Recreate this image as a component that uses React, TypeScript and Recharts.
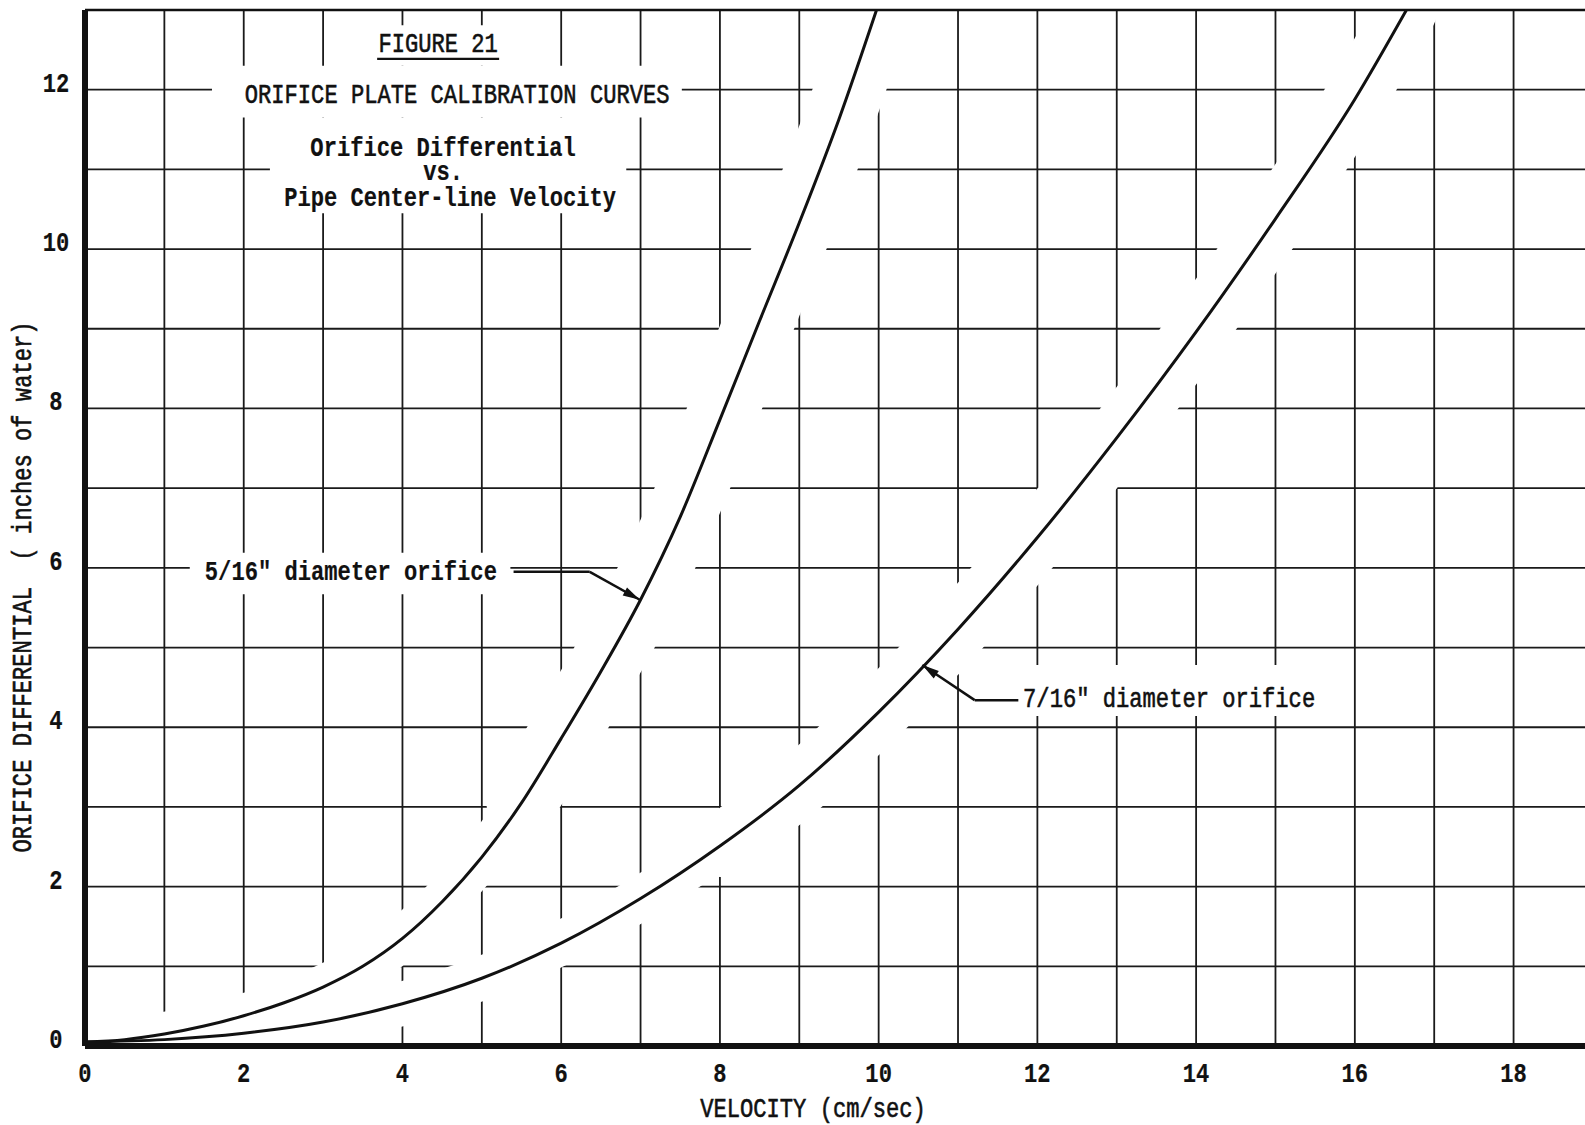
import React from 'react';
import {
  LineChart,
  Line,
  XAxis,
  YAxis,
  CartesianGrid,
  ReferenceLine,
  ReferenceArea,
  ReferenceDot,
  Label,
} from 'recharts';

// 5/16" orifice: velocity (cm/sec) vs differential (inches of water)
const VELOCITY_516 = [0, 0.5, 1, 1.5, 2, 2.5, 3, 3.5, 4, 4.5, 5, 5.5, 6, 6.5, 7, 7.5, 8, 8.5, 9, 9.5, 10];
const DIFF_516 = [0.05, 0.08, 0.15, 0.25, 0.38, 0.54, 0.74, 1.0, 1.35, 1.81, 2.37, 3.05, 3.86, 4.7, 5.6, 6.64, 7.86, 9.1, 10.33, 11.63, 13.08];

// 7/16" orifice
const VELOCITY_716 = [0, 1, 2, 3, 4, 5, 6, 7, 8, 9, 10, 11, 12, 13, 14, 15, 16, 16.65];
const DIFF_716 = [0.05, 0.08, 0.16, 0.3, 0.53, 0.85, 1.29, 1.85, 2.51, 3.27, 4.19, 5.23, 6.38, 7.63, 8.96, 10.38, 11.88, 13.0];

const X_TICKS = [0, 2, 4, 6, 8, 10, 12, 14, 16, 18];
const Y_TICKS = [0, 2, 4, 6, 8, 10, 12];
const GRID_X = [1, 2, 3, 4, 5, 6, 7, 8, 9, 10, 11, 12, 13, 14, 15, 16, 17, 18];
const GRID_Y = [1, 2, 3, 4, 5, 6, 7, 8, 9, 10, 11, 12];

const curve516 = VELOCITY_516.map((x, i) => ({ x, y: DIFF_516[i] }));
const curve716 = VELOCITY_716.map((x, i) => ({ x, y: DIFF_716[i] }));

const INK = '#111';
const FONT = "'Liberation Mono', 'Courier New', monospace";

interface TypeTextProps {
  x: number;
  y: number;
  children: React.ReactNode;
  anchor?: 'start' | 'middle' | 'end';
  bold?: boolean;
  rotate?: number;
  size?: number;
}

// typewriter-ish text: condensed mono, a bit taller than wide
function TypeText({ x, y, children, anchor = 'middle', bold = false, rotate = 0, size = 27 }: TypeTextProps) {
  return (
    <text
      transform={`translate(${x},${y}) rotate(${rotate}) scale(0.82,1)`}
      textAnchor={anchor}
      fontFamily={FONT}
      fontSize={size}
      fontWeight={bold ? 700 : 400}
      fill={INK}
      stroke={INK}
      strokeWidth={bold ? 0.2 : 0.6}
      style={{ whiteSpace: 'pre' }}
    >
      {children}
    </text>
  );
}

const titleBlock = (p: any) => (
  <g>
    <TypeText x={p.cx - 4} y={p.cy - 6}>FIGURE 21</TypeText>
    <line x1={p.cx - 65} x2={p.cx + 57} y1={p.cy + 1} y2={p.cy + 1} stroke={INK} strokeWidth={2.2} />
    <TypeText x={p.cx + 15} y={p.cy + 45}>ORIFICE PLATE CALIBRATION CURVES</TypeText>
    <TypeText x={p.cx + 1} y={p.cy + 98} bold>Orifice Differential</TypeText>
    <TypeText x={p.cx + 1} y={p.cy + 122} bold>vs.</TypeText>
    <TypeText x={p.cx + 8} y={p.cy + 148} bold>Pipe Center-line Velocity</TypeText>
  </g>
);

const textShape = (text: string, bold: boolean) => (p: any) => (
  <TypeText x={p.cx} y={p.cy} anchor="start" bold={bold}>{text}</TypeText>
);

const arrowHead = (angle: number) => (p: any) => (
  <polygon
    points="0,0 -17,-4.5 -17,4.5"
    transform={`translate(${p.cx},${p.cy}) rotate(${angle})`}
    fill={INK}
  />
);

const xTick = (p: any) => (
  <TypeText x={p.x} y={p.y + 36} bold>{p.payload.value}</TypeText>
);

const yTick = (p: any) => (
  <TypeText x={p.x - 29} y={p.y + 2} bold>{p.payload.value}</TypeText>
);

const xTitle = (p: any) => {
  const vb = p.viewBox;
  return <TypeText x={vb.x + vb.width / 2 - 22} y={vb.y + 71}>VELOCITY (cm/sec)</TypeText>;
};

const yTitle = (p: any) => {
  const vb = p.viewBox;
  return (
    <TypeText x={31} y={vb.y + vb.height / 2 + 59} rotate={-90}>
      {'ORIFICE DIFFERENTIAL  ( inches of water)'}
    </TypeText>
  );
};

export default function App() {
  return (
    <div style={{ position: 'fixed', left: 0, top: 0, width: 1585, height: 1125, background: '#fff' }}>
      <LineChart width={1585} height={1125} margin={{ top: 10, right: 0, bottom: 0, left: 0 }}>
        <CartesianGrid
          horizontalValues={GRID_Y}
          verticalValues={GRID_X}
          stroke="#1a1a1a"
          strokeWidth={1.8}
        />

        {/* grid is left blank behind the typed text */}
        <ReferenceArea x1={3.47} x2={5.42} y1={12.3} y2={12.81} fill="#fff" fillOpacity={1} stroke="none" ifOverflow="visible" />
        <ReferenceArea x1={1.6} x2={7.52} y1={11.65} y2={12.3} fill="#fff" fillOpacity={1} stroke="none" ifOverflow="visible" />
        <ReferenceArea x1={2.33} x2={6.82} y1={10.45} y2={11.65} fill="#fff" fillOpacity={1} stroke="none" ifOverflow="visible" />
        <ReferenceArea x1={1.32} x2={5.36} y1={5.67} y2={6.19} fill="#fff" fillOpacity={1} stroke="none" ifOverflow="visible" />
        <ReferenceArea x1={11.76} x2={15.59} y1={4.14} y2={4.78} fill="#fff" fillOpacity={1} stroke="none" ifOverflow="visible" />

        {/* white halos: the grid stops short of the curves */}
        <Line data={curve516} dataKey="y" type="monotone" stroke="#fff" strokeWidth={44} strokeLinecap="round" dot={false} activeDot={false} isAnimationActive={false} legendType="none" />
        <Line data={curve716} dataKey="y" type="monotone" stroke="#fff" strokeWidth={44} strokeLinecap="round" dot={false} activeDot={false} isAnimationActive={false} legendType="none" />
        <Line data={curve516.filter((d) => d.y >= 2.4)} dataKey="y" type="monotone" stroke="#fff" strokeWidth={70} strokeLinecap="round" dot={false} activeDot={false} isAnimationActive={false} legendType="none" />
        <Line data={curve716.filter((d) => d.y >= 2.4)} dataKey="y" type="monotone" stroke="#fff" strokeWidth={62} strokeLinecap="round" dot={false} activeDot={false} isAnimationActive={false} legendType="none" />

        <Line data={curve516} dataKey="y" name='5/16" diameter orifice' type="monotone" stroke={INK} strokeWidth={3} dot={false} activeDot={false} isAnimationActive={false} />
        <Line data={curve716} dataKey="y" name='7/16" diameter orifice' type="monotone" stroke={INK} strokeWidth={3} dot={false} activeDot={false} isAnimationActive={false} />

        {/* top border */}
        <ReferenceLine y={13} stroke={INK} strokeWidth={2.5} ifOverflow="visible" zIndex={600} />

        {/* leaders */}
        <ReferenceLine segment={[{ x: 5.4, y: 5.95 }, { x: 6.36, y: 5.95 }]} stroke={INK} strokeWidth={2.5} ifOverflow="visible" zIndex={600} />
        <ReferenceLine segment={[{ x: 6.36, y: 5.95 }, { x: 6.99, y: 5.6 }]} stroke={INK} strokeWidth={2.5} ifOverflow="visible" zIndex={600} />
        <ReferenceLine segment={[{ x: 11.21, y: 4.34 }, { x: 11.76, y: 4.34 }]} stroke={INK} strokeWidth={2.5} ifOverflow="visible" zIndex={600} />
        <ReferenceLine segment={[{ x: 11.21, y: 4.34 }, { x: 10.55, y: 4.78 }]} stroke={INK} strokeWidth={2.5} ifOverflow="visible" zIndex={600} />
        <ReferenceDot x={6.99} y={5.6} r={1} shape={arrowHead(28.8)} ifOverflow="visible" zIndex={700} />
        <ReferenceDot x={10.55} y={4.78} r={1} shape={arrowHead(214.8)} ifOverflow="visible" zIndex={700} />

        <ReferenceDot x={1.51} y={5.85} r={1} shape={textShape('5/16" diameter orifice', true)} ifOverflow="visible" zIndex={700} />
        <ReferenceDot x={11.82} y={4.25} r={1} shape={textShape('7/16" diameter orifice', false)} ifOverflow="visible" zIndex={700} />
        <ReferenceDot x={4.5} y={12.4} r={1} shape={titleBlock} ifOverflow="visible" zIndex={700} />

        <XAxis
          dataKey="x"
          type="number"
          domain={[0, 18.9]}
          ticks={X_TICKS}
          allowDataOverflow
          height={79}
          axisLine={{ stroke: INK, strokeWidth: 6 }}
          tickLine={false}
          tickSize={0}
          tickMargin={0}
          tick={xTick}
          interval={0}
        >
          <Label content={xTitle} />
        </XAxis>
        <YAxis
          type="number"
          domain={[0, 13]}
          ticks={Y_TICKS}
          allowDataOverflow
          width={85}
          axisLine={{ stroke: INK, strokeWidth: 6 }}
          tickLine={false}
          tickSize={0}
          tickMargin={0}
          tick={yTick}
          interval={0}
        >
          <Label content={yTitle} />
        </YAxis>
      </LineChart>
    </div>
  );
}
